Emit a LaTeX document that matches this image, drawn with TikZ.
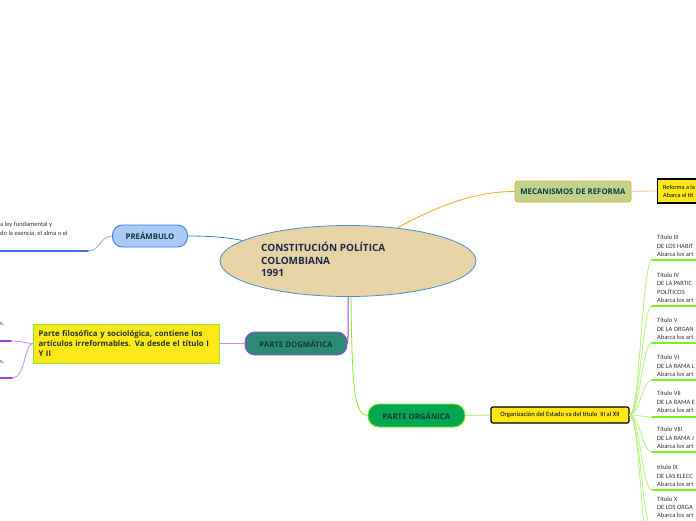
\documentclass[tikz,border=0pt]{standalone}
\usepackage{fontspec}
\setmainfont{Open Sans}
\newfontfamily\smallf{Carlito}
\usetikzlibrary{shapes.geometric}
\definecolor{tanfill}{HTML}{E8D3A6}
\definecolor{ellborder}{HTML}{4A90C8}
\definecolor{navy}{HTML}{1B2A4A}
\definecolor{prefill}{HTML}{A9CBF7}
\definecolor{preborder}{HTML}{3A7BE0}
\definecolor{darkteal}{HTML}{17363A}
\definecolor{dogfill}{HTML}{2E8B73}
\definecolor{purp}{HTML}{A040E0}
\definecolor{lpurp}{HTML}{C98CF2}
\definecolor{yel}{HTML}{FFE81A}
\definecolor{lgreen}{HTML}{8CE62E}
\definecolor{mecfill}{HTML}{BFD38A}
\definecolor{orng}{HTML}{F5A623}
\definecolor{lorng}{HTML}{FAD7A0}
\definecolor{orgfill}{HTML}{00A651}
\definecolor{brgreen}{HTML}{7CF01C}
\definecolor{pgreen}{HTML}{B4F278}
\definecolor{txtgray}{HTML}{333333}
\definecolor{lblue}{HTML}{86AEF5}
\definecolor{dblue}{HTML}{3A6FE8}
\definecolor{dgtext}{HTML}{1E3A2A}
\tikzset{
  pill/.style={draw, rounded corners=10pt, line width=0.9pt, inner sep=0pt, font=\bfseries\fontsize{7.8}{9}\selectfont, text=darkteal},
  smalltxt/.style={font=\smallf\fontsize{6.5}{8.5}\selectfont, text=txtgray, align=left, inner sep=0pt},
  conn/.style={line width=0.8pt},
  uline/.style={line width=1.6pt, line cap=round}
}
\begin{document}
\begin{tikzpicture}[x=1pt,y=-1pt]
\useasboundingbox (0,0) rectangle (696,520);
\fill[white] (0,0) rectangle (696,520);

% central ellipse
\node[ellipse, draw=ellborder, fill=tanfill, line width=0.8pt, minimum width=256pt, minimum height=71pt, inner sep=0pt] (c) at (348,261) {};
\node[anchor=north west, align=left, inner sep=0pt, font=\bfseries\fontsize{10}{12.7}\selectfont, text=navy] (ctext) at (261,242) {CONSTITUCIÓN POLÍTICA\\COLOMBIANA\\1991};

% PREAMBULO
\node[pill, draw=preborder, fill=prefill, minimum width=75pt, minimum height=22pt] (pre) at (150,236) {PREÁMBULO};
\draw[conn, preborder] (pre.east) .. controls (215,236) and (230,238) .. (c.169);
\coordinate (preend) at (88,251);
\coordinate (preleft) at (0,251);
\draw[conn, lblue] (pre.west) .. controls (100,236) and (100,251) .. (preend);
\draw[uline, dblue] (preend) -- (preleft);
\node[smalltxt, anchor=north west] (pretext) at (0,222) {a ley fundamental y\\do la esencia, el alma o el};

% PARTE DOGMATICA
\node[pill, draw=purp, fill=dogfill, minimum width=102pt, minimum height=23pt] (dog) at (296,343.5) {PARTE DOGMÁTICA};
\coordinate (dogbend) at (348,333);
\draw[conn, purp, line width=1pt] (c.south) -- (dogbend) .. controls (348,340) .. (dog.east);
\node[draw=lgreen, fill=yel, line width=0.9pt, minimum width=185pt, minimum height=39pt, text width=176pt, align=left, inner sep=5pt, font=\bfseries\fontsize{7.8}{9.6}\selectfont, text=dgtext] (dogy) at (126.5,343.5) {Parte filosófica y sociológica, contiene los\\artículos irreformables. Va desde el título I\\Y II};
\draw[conn, lpurp] (dog.west) -- (dogy.east);
\coordinate (d1) at (11,341);
\coordinate (d1l) at (0,341);
\coordinate (d2) at (12,378);
\coordinate (d2l) at (0,378);
\draw[conn, lpurp] (dogy.west) .. controls (24,343) and (22,341) .. (d1);
\draw[conn, lpurp] (dogy.west) .. controls (24,343) and (26,378) .. (d2);
\draw[uline, purp] (d1) -- (d1l);
\draw[uline, purp] (d2) -- (d2l);
\node[smalltxt, anchor=west] (ds1) at (0,324) {s.};
\node[smalltxt, anchor=west] (ds2) at (0,361.5) {s.};

% MECANISMOS DE REFORMA
\node[pill, rounded corners=3pt, draw=orng, fill=mecfill, minimum width=116pt, minimum height=21pt] (mec) at (573,191.5) {MECANISMOS DE REFORMA};
\draw[conn, orng] (c.34) .. controls (440,205) and (475,191.5) .. (mec.west);
\node[draw=black, fill=yel, line width=1.3pt, minimum width=60pt, minimum height=24pt, anchor=west, inner sep=0pt] (mecy) at (657,191) {};
\node[smalltxt, anchor=west, text=black, font=\smallf\fontsize{6.2}{8}\selectfont] (mect) at (663,191) {Reforma a la\\Abarca el tít};
\draw[conn, lorng, line width=1pt] (mec.east) -- (mecy.west);

% PARTE ORGANICA
\node[pill, draw=brgreen, fill=orgfill, minimum width=97pt, minimum height=23pt, rounded corners=11pt] (org) at (416.5,415.5) {PARTE ORGÁNICA};
\draw[conn, brgreen] ([xshift=3pt]c.south) .. controls (352,385) and (354,415.5) .. (org.west);
\node[draw=black, fill=yel, line width=1.2pt, rounded corners=2pt, minimum width=138pt, minimum height=16pt, inner sep=0pt, font=\smallf\fontsize{6.6}{7}\selectfont] (orgy) at (560,415) {Organización del Estado va del título \ III al XII};
\draw[conn, pgreen, line width=1pt] (org.east) -- (orgy.west);

% titles
\foreach \i/\y in {1/260, 2/306, 3/343, 4/380, 5/417, 6/452, 7/490, 8/528, 9/566}{
  \coordinate (t\i) at (652,\y);
  \coordinate (te\i) at (700,\y);
  \draw[conn, pgreen] (orgy.east) .. controls (640,415) and (642,\y) .. (t\i);
  \draw[uline, brgreen] (t\i) -- (te\i);
}
\node[smalltxt, anchor=south west] (tt1) at (657,257) {Título III\\DE LOS HABIT\\Abarca los art};
\node[smalltxt, anchor=south west] (tt2) at (657,303) {Título IV\\DE LA PARTIC\\POLÍTICOS\\Abarca los art};
\node[smalltxt, anchor=south west] (tt3) at (657,340) {Título V\\DE LA ORGAN\\Abarca los art};
\node[smalltxt, anchor=south west] (tt4) at (657,377) {Título VI\\DE LA RAMA L\\Abarca los art};
\node[smalltxt, anchor=south west] (tt5) at (657,413) {Título VII\\DE LA RAMA E\\Abarca los art};
\node[smalltxt, anchor=south west] (tt6) at (657,449) {Título VIII\\DE LA RAMA J\\Abarca los art};
\node[smalltxt, anchor=south west] (tt7) at (657,487) {título IX\\DE LAS ELECC\\Abarca los art};
\node[smalltxt, anchor=south west, font=\smallf\fontsize{6.5}{8}\selectfont] (tt8) at (657,518) {Título X\\DE LOS ORGA\\Abarca los art};
\end{tikzpicture}
\end{document}
